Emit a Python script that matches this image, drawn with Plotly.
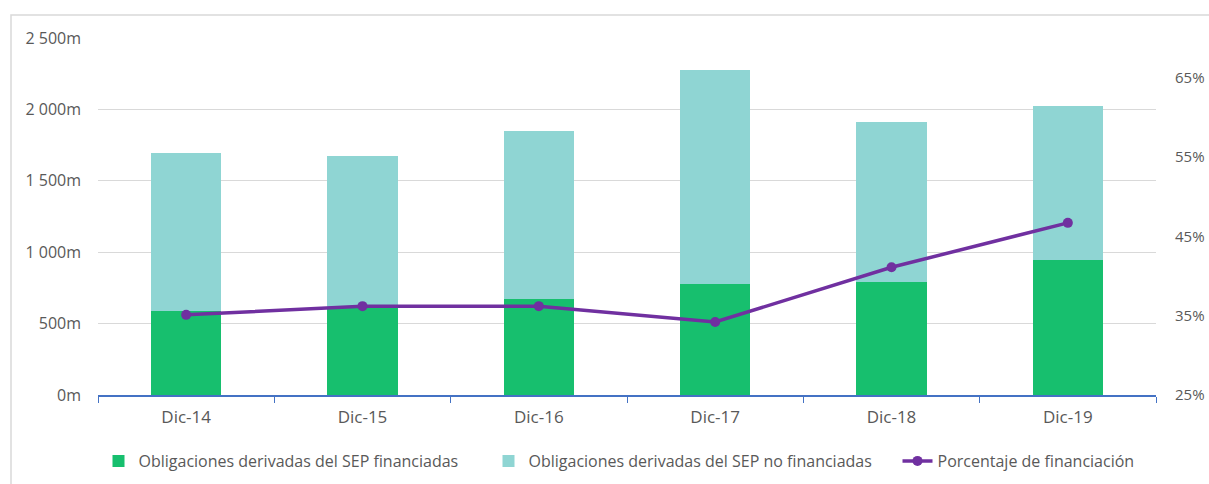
import plotly.graph_objects as go

categories = ["Dic-14", "Dic-15", "Dic-16", "Dic-17", "Dic-18", "Dic-19"]
financiadas = [588, 606, 672, 777, 791, 945]
no_financiadas = [1107, 1068, 1177, 1499, 1121, 1079]
porcentaje = [35.1, 36.2, 36.2, 34.2, 41.1, 46.7]

left_ticks = [0, 500, 1000, 1500, 2000, 2500]
left_labels = ["0m", "500m", "1 000m", "1 500m", "2 000m", "2 500m"]
right_ticks = [25, 35, 45, 55, 65]
right_labels = ["25%", "35%", "45%", "55%", "65%"]

FONT = "Open Sans"
TXT = "#595959"
W, H = 1209, 484

fig = go.Figure()
fig.add_trace(go.Bar(x=categories, y=financiadas, name="Obligaciones derivadas del SEP financiadas",
                     marker=dict(color="#17BF6E", line=dict(width=0)), legend="legend"))
fig.add_trace(go.Bar(x=categories, y=no_financiadas, name="Obligaciones derivadas del SEP no financiadas",
                     marker=dict(color="#8FD5D3", line=dict(width=0)), legend="legend2"))
fig.add_trace(go.Scatter(x=categories, y=porcentaje, name="Porcentaje de financiación", yaxis="y2",
                         mode="lines+markers", line=dict(color="#7030A0", width=3.5),
                         marker=dict(color="#7030A0", size=10), legend="legend3"))

def leg(xpx):
    return dict(orientation="h", xref="container", yref="container",
                x=(xpx - 40.5) / W, y=1 - 461 / H, xanchor="left", yanchor="middle",
                font=dict(size=16, color=TXT), bgcolor="rgba(0,0,0,0)")

fig.update_layout(
    width=W, height=H,
    margin=dict(l=98, r=53, t=38, b=89),
    paper_bgcolor="white", plot_bgcolor="white",
    barmode="stack", bargap=0.6, showlegend=True,
    font=dict(family=FONT, size=15, color=TXT),
    xaxis=dict(showgrid=False, showline=True, linecolor="#4472C4", linewidth=1.5,
               ticks="outside", tickson="boundaries", ticklen=6, tickcolor="#4472C4",
               tickfont=dict(size=17, color=TXT), ticklabelstandoff=6, automargin=False),
    yaxis=dict(range=[0, 2500], tickvals=left_ticks, ticktext=left_labels,
               showgrid=True, gridcolor="#D9D9D9", gridwidth=1, zeroline=False,
               showline=False, ticklabelstandoff=16, tickfont=dict(size=16, color=TXT),
               automargin=False),
    yaxis2=dict(range=[25, 70], tickvals=right_ticks, ticktext=right_labels, overlaying="y",
                side="right", showgrid=False, zeroline=False, showline=False,
                ticklabelstandoff=18, tickfont=dict(size=15, color=TXT), automargin=False),
    legend=leg(139),
    legend2=leg(529),
    legend3=leg(938),
    shapes=[dict(type="rect", xref="paper", yref="paper", x0=-87/1058, x1=1.1,
                 y0=-0.4, y1=(395 - 15) / 357, line=dict(color="#D9D9D9", width=1.5),
                 fillcolor="rgba(0,0,0,0)", layer="below")],
)

fig.write_html("out.html", config={"displayModeBar": False},
               post_script="document.body.style.margin='0';")
